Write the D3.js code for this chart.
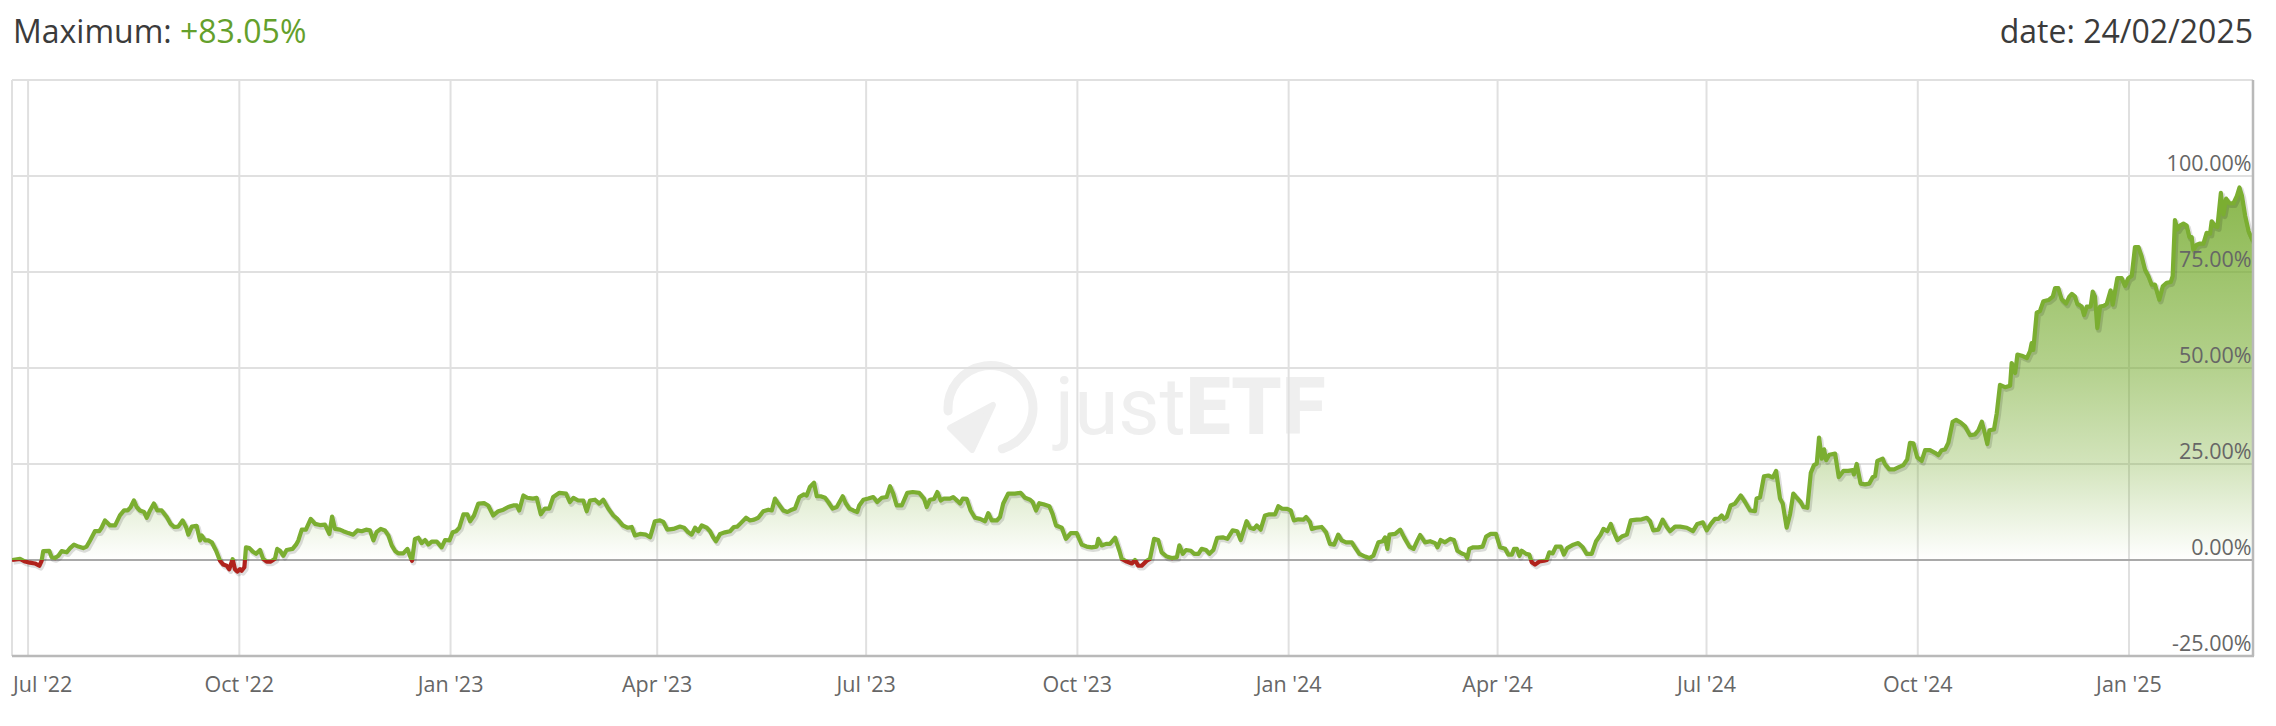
<!DOCTYPE html>
<html><head><meta charset="utf-8">
<script src="https://cdn.jsdelivr.net/npm/d3@7"></script>
<style>html,body{margin:0;padding:0;background:#fff;} svg{display:block;font-family:'Open Sans',sans-serif;}</style>
</head><body>
<svg id="chart" width="2276" height="726"></svg>
<script>
// ---- data ----
const startDate = "2022-06-24";
const endDate = "2025-02-24";
// days since startDate
const dayOffsets = [
0,3.5,5.7,7.8,10.0,11.9,12.9,13.6,16.2,17.3,18.7,20.2,21.6,23.8,25.3,27.0,28.9,31.0,32.5,34.0,36.1,38.0,39.0,40.5,42.7,44.9,47.0,48.8,50.4,51.7,53.1,54.3,55.7,57.5,58.7,60.1,61.8,63.3,65.2,67.4,69.1,70.6,72.4,74.3,75.8,76.8,78.3,80.4,81.9,82.6,84.1,85.5,87.0,88.9,90.6,92.0,93.5,94.6,96.1,97.1,98.1,99.3,100.0,101.2,101.9,103.4,104.8,106.3,108.0,109.4,110.9,112.7,114.5,115.5,116.7,118.2,119.6,122.2,123.7,124.7,126.2,128.0,130.1,132.0,134.1,136.3,138.2,139.4,140.7,142.8,
144.3,146.5,148.6,150.4,152.3,154.2,155.9,157.4,158.8,160.6,162.4,163.9,165.4,166.8,168.2,170.4,172.2,173.3,174.2,175.5,177.0,178.4,179.9,181.3,182.8,185.0,187.1,188.6,190.5,191.9,193.4,194.8,196.6,198.3,199.5,201.2,203.1,205.6,207.4,209.6,211.8,214.0,216.1,218.3,219.8,220.9,222.7,224.4,227.0,228.5,230.3,232.1,234.0,235.7,238.4,241.3,243.0,244.5,246.6,248.8,250.3,251.7,253.9,255.8,257.5,259.7,261.9,263.6,266.0,268.0,269.9,271.3,273.5,276.1,277.9,280.0,282.2,
283.7,285.4,288.0,290.9,292.7,294.5,296.0,297.5,298.9,300.4,302.6,304.0,305.4,306.6,308.4,310.5,312.7,314.4,315.9,317.4,319.7,321.4,323.2,325.0,327.2,329.4,330.9,332.3,333.7,335.9,337.7,339.6,341.0,342.9,344.9,346.1,347.5,349.3,350.5,352.2,354.1,355.5,357.4,359.2,361.8,363.2,364.7,366.4,368.1,369.0,370.8,372.9,375.1,376.8,378.8,380.9,382.4,383.8,385.3,387.5,389.9,392.3,395.1,397.2,398.4,399.8,401.6,403.0,404.5,405.9,408.5,409.9,411.7,412.9,414.1,415.8,417.5,419.4,421.6,423.8,425.2,426.7,428.9,
430.3,431.7,433.9,436.8,439.3,441.2,443.4,444.5,446.0,447.4,449.2,451.8,453.2,454.7,457.2,459.0,461.1,463.7,465.9,468.0,470.2,472.4,473.1,474.6,476.5,478.2,480.4,482.3,483.3,485.5,487.7,489.1,490.5,492.0,494.2,495.6,497.4,499.2,500.7,502.9,505.1,507.3,508.4,509.9,511.3,513.4,514.8,516.7,518.1,520.0,521.5,523.2,524.9,527.3,529.3,531.6,533.6,535.1,537.7,539.2,540.9,542.1,543.8,545.7,547.6,550.1,551.5,553.0,555.4,556.9,558.3,560.2,562.4,563.6,565.3,566.1,567.9,570.4,572.3,574.0,575.8,577.6,579.1,581.0,583.5,584.9,586.8,589.3,591.1,592.9,595.1,597.0,598.0,599.0,599.9,602.4,604.6,606.3,608.6,610.4,612.1,613.3,
615.4,617.6,619.8,620.8,622.2,624.1,626.3,628.0,629.5,631.4,632.8,633.8,634.7,636.4,638.6,640.5,642.0,644.0,646.3,648.1,650.3,651.7,653.2,654.2,655.4,656.5,657.5,659.4,660.8,661.9,663.3,665.2,667.2,668.4,669.5,671.0,672.4,674.5,675.9,677.3,680.0,682.1,684.1,685.8,688.0,689.9,691.9,693.1,694.8,696.3,697.7,699.2,701.1,703.3,705.0,707.6,709.8,712.0,713.4,714.8,717.0,718.9,720.7,722.1,724.3,726.5,729.4,732.1,734.0,736.4,738.1,739.9,741.7,743.2,744.6,745.6,746.8,748.5,750.4,752.9,754.8,757.0,759.1,759.8,761.3,763.0,764.9,766.9,768.3,770.0,771.2,772.9,774.4,775.8,777.3,779.0,780.2,781.9,783.4,784.8,786.0,787.0,788.2,789.2,790.1,791.5,794.0,795.6,
797.6,799.7,801.7,802.2,803.4,805.1,807.0,808.9,810.4,811.4,812.4,814.7,815.7,817.6,819.7,821.5,823.7,825.4,826.6,828.1,829.8,831.7,833.2,835.3,837.5,839.0,840.4,841.9,843.3,845.2,846.7,848.7,850.6,852.8,854.9,856.4,857.9,858.9,860.3,861.2,863.2,864.4,865.8,868.0,870.2,870.9,872.4,873.4,875.3,877.5,878.9,879.6,880.3,881.8,883.2,884.7,
886.9,888.8,889.8,891.2,892.7,894.6,896.0,897.1,898.5,899.5,901.4,902.4,903.6,905.3,906.2,907.2,908.2,909.4,911.1,912.3,914.0,914.9,916.9,918.8,920.3,921.7,923.2,924.6,926.1,927.5,929.0,930.4,931.9,933.3,935.2,936.7,938.4,940.2,941.0,942.0,943.1,944.2,945.7,947.1,948.3,949.3,950.0,951.5,952.9,954.4,955.8,957.3,958.0,959.5,960.5,962.0,963.1,964.3,965.7,967.5,969.0,970.1,971.2,972.6,974.1,976.0
];
// cumulative return in %
const returnsPct = [
0.0,0.3,-0.4,-0.7,-0.9,-1.5,-0.2,2.3,2.4,0.7,0.5,1.1,2.3,2.0,3.1,4.0,3.5,3.1,3.5,5.1,7.5,7.5,8.4,10.3,9.0,9.0,11.6,12.9,12.9,13.8,15.5,13.8,12.9,12.5,11.0,12.9,14.7,12.9,12.9,11.2,9.4,8.6,8.7,10.3,8.6,6.6,8.7,8.9,5.1,6.4,5.1,5.1,4.6,2.4,-0.2,-1.2,-1.5,-2.4,0.2,-2.4,-3.0,-2.4,-2.8,-1.9,3.3,3.1,2.2,1.6,2.6,0.3,-0.4,-0.4,0.3,2.9,2.4,1.1,2.6,2.9,4.0,5.1,7.9,7.9,10.7,9.4,9.1,9.2,6.8,11.3,8.1,7.9,
7.5,7.0,6.6,7.7,7.5,7.9,7.7,5.1,7.3,8.1,7.7,6.4,3.8,2.4,1.7,1.7,2.9,1.1,-0.2,5.5,5.8,4.4,5.2,4.0,4.8,4.8,3.3,5.2,5.1,7.2,7.5,8.4,11.9,11.9,10.1,11.6,14.7,14.8,14.2,11.6,12.7,13.1,13.8,14.2,14.2,12.9,16.8,16.2,16.0,16.2,11.9,13.4,13.4,16.4,17.5,17.3,15.1,16.2,15.5,15.5,12.7,15.5,15.7,14.7,15.7,13.4,11.6,10.7,9.0,8.4,8.6,6.4,6.8,6.6,5.9,10.1,10.3,
9.9,7.9,8.1,8.7,8.4,7.2,6.6,8.4,7.5,9.0,8.4,7.5,5.9,4.9,6.8,7.2,7.5,8.6,8.7,9.6,11.0,10.3,10.5,11.0,12.7,13.1,12.9,16.0,14.7,12.9,12.5,13.1,13.4,16.4,17.1,16.8,19.0,20.1,16.6,16.6,16.2,15.1,13.4,13.8,16.6,14.7,13.4,12.9,12.5,14.2,15.7,16.0,16.4,15.1,16.2,16.4,19.2,17.3,14.2,14.2,17.5,17.7,17.5,16.0,13.8,15.7,15.9,17.7,15.5,16.0,16.0,16.4,15.4,14.7,16.0,15.9,12.9,11.0,10.7,10.1,12.2,10.3,10.3,
11.2,14.7,17.3,17.3,17.5,16.2,15.7,15.1,12.9,14.8,14.5,14.0,12.0,9.0,8.4,5.5,7.0,7.0,4.0,3.5,3.3,3.5,5.5,3.8,4.2,4.2,5.8,2.4,0.3,-0.4,-0.9,0.0,-1.5,-1.5,-0.2,0.3,5.5,5.2,2.0,0.9,0.5,0.7,3.8,1.6,2.6,2.4,1.6,1.6,2.9,2.6,1.6,2.6,5.8,5.9,5.5,7.7,7.5,5.2,10.1,8.4,8.1,9.0,7.9,11.6,11.9,11.9,14.0,13.4,13.3,12.9,10.3,10.6,10.5,11.2,9.9,8.1,8.4,8.6,7.2,4.2,4.0,6.6,5.1,4.6,4.6,3.3,1.6,0.9,0.5,1.1,4.6,4.9,5.9,2.9,6.6,6.8,7.9,5.9,3.5,2.9,5.1,6.5,
4.6,4.9,4.4,3.3,5.2,4.6,5.5,5.2,2.4,1.7,1.4,0.5,2.9,3.3,3.3,3.5,6.1,6.8,6.8,3.3,2.9,1.4,1.4,2.9,2.9,1.1,2.4,1.6,1.4,-0.6,-1.2,-0.4,-0.2,0.0,2.0,1.7,3.5,3.5,1.4,3.1,4.0,4.4,3.3,1.6,1.6,4.9,6.6,8.1,7.5,9.4,7.2,5.2,6.1,6.6,10.3,10.5,10.6,11.0,10.1,7.7,7.9,10.5,8.6,7.5,8.7,8.7,8.4,7.5,9.4,9.8,7.7,9.4,10.7,10.7,11.6,10.7,11.2,14.2,14.7,16.8,15.1,12.9,12.7,16.0,16.3,21.8,22.0,21.5,23.2,16.0,14.7,8.4,12.0,17.3,16.2,15.1,13.8,13.6,22.7,24.7,25.1,31.9,26.4,28.8,26.0,27.4,27.7,21.6,
23.2,23.2,23.4,22.3,25.0,19.9,19.7,19.9,21.6,21.8,25.8,26.4,25.0,23.6,23.6,24.1,24.7,26.2,30.5,30.4,26.7,25.8,28.6,28.6,27.9,27.3,28.6,28.8,30.5,36.0,36.5,35.8,34.8,32.5,32.7,33.8,36.0,33.8,30.2,33.8,34.0,38.2,45.6,45.0,45.4,51.3,48.7,53.5,53.2,52.6,54.4,56.5,54.7,64.4,64.8,67.4,
67.7,68.6,70.8,70.8,67.9,66.8,68.6,69.3,68.6,66.7,66.0,63.8,66.0,66.0,69.9,68.6,60.4,66.0,66.2,66.7,70.2,66.5,73.4,73.4,71.4,73.4,74.0,81.5,81.5,79.1,75.6,74.0,71.7,71.7,67.8,71.3,72.2,72.4,73.9,88.5,86.1,87.1,87.6,87.1,84.1,84.1,80.8,82.1,82.4,82.4,85.2,85.0,88.2,86.9,86.7,95.6,90.0,94.1,92.9,92.9,94.8,97.0,94.8,89.6,85.6,83.05
];
const xTickDates = ["2022-07-01","2022-10-01","2023-01-01","2023-04-01","2023-07-01","2023-10-01","2024-01-01","2024-04-01","2024-07-01","2024-10-01","2025-01-01"];
const xTickLabels = ["Jul '22","Oct '22","Jan '23","Apr '23","Jul '23","Oct '23","Jan '24","Apr '24","Jul '24","Oct '24","Jan '25"];
const yTicks = [-25, 0, 25, 50, 75, 100];
const yDomain = [-25, 125];
const titleLabel = "Maximum: ";
const titleValue = "+83.05%";
const dateLabel = "date: 24/02/2025";

// ---- layout ----
const W = 2276, H = 726;
const L = 12, R = 2253, T = 80, B = 656;
const parse = d3.utcParse("%Y-%m-%d");
const t0 = parse(startDate);
const data = dayOffsets.map((d, i) => ({date: new Date(t0.getTime() + d * 864e5), v: returnsPct[i]}));

const x = d3.scaleUtc().domain([t0, parse(endDate)]).range([L, R]);
const y = d3.scaleLinear().domain(yDomain).range([B, T]);

const svg = d3.select("#chart");
const defs = svg.append("defs");

const grad = defs.append("linearGradient").attr("id", "fillGrad")
  .attr("gradientUnits", "userSpaceOnUse").attr("x1", 0).attr("x2", 0)
  .attr("y1", y(125)).attr("y2", y(0));
[[0, 0.95], [0.2, 0.86], [0.4, 0.7], [0.6, 0.54], [0.8, 0.32], [1, 0.0]].forEach(([o, op]) => {
  grad.append("stop").attr("offset", o).attr("stop-color", "#74aa2c").attr("stop-opacity", op);
});
defs.append("clipPath").attr("id", "clipAbove").append("rect")
  .attr("x", L).attr("y", T).attr("width", R - L).attr("height", y(0) - T);
defs.append("clipPath").attr("id", "clipBelow").append("rect")
  .attr("x", L).attr("y", y(0)).attr("width", R - L).attr("height", B - y(0));
defs.append("clipPath").attr("id", "clipPlot").append("rect")
  .attr("x", L).attr("y", T - 10).attr("width", R - L).attr("height", B - T + 10);

svg.append("rect").attr("width", W).attr("height", H).attr("fill", "#fff");

// ---- watermark ----
const wm = svg.append("g").attr("fill", "#efefef");
const wcx = 990.5, wcy = 408, wr = 42.5;
const arc = d3.arc().innerRadius(wr - 4.5).outerRadius(wr + 4.5).cornerRadius(4.5)
  .startAngle(-100 * Math.PI / 180).endAngle(170 * Math.PI / 180);
wm.append("path").attr("transform", `translate(${wcx},${wcy})`).attr("d", arc());
wm.append("path").attr("d", "M950,428 L993,405 L972,450 Z").attr("stroke", "#efefef")
  .attr("stroke-width", 6).attr("stroke-linejoin", "round");
const wt = wm.append("text").attr("x", 1055).attr("y", 434)
  .style("font-family", "Roboto, 'Open Sans', sans-serif").style("font-size", "80px");
wt.append("tspan").text("just").style("font-weight", 400);
wt.append("tspan").text("ETF").style("font-weight", 900);

// ---- grid ----
const grid = svg.append("g");
grid.selectAll(".vg").data(xTickDates).join("line")
  .attr("x1", d => x(parse(d))).attr("x2", d => x(parse(d)))
  .attr("y1", T).attr("y2", B).attr("stroke", "#e0e0e0").attr("stroke-width", 2);
grid.selectAll(".hg").data(yTicks.filter(t => t !== 0 && t !== -25)).join("line")
  .attr("x1", L).attr("x2", R).attr("y1", d => y(d)).attr("y2", d => y(d))
  .attr("stroke", "#e0e0e0").attr("stroke-width", 2);
// frame
grid.append("line").attr("x1", L).attr("x2", R).attr("y1", T).attr("y2", T).attr("stroke", "#e0e0e0").attr("stroke-width", 2);
grid.append("line").attr("x1", L).attr("x2", L).attr("y1", T).attr("y2", B).attr("stroke", "#e0e0e0").attr("stroke-width", 2);

// ---- area ----
const area = d3.area().x(d => x(d.date)).y0(y(0)).y1(d => y(Math.max(0, d.v)));
svg.append("path").datum(data).attr("d", area).attr("fill", "url(#fillGrad)");

// zero line
svg.append("line").attr("x1", L).attr("x2", R).attr("y1", y(0)).attr("y2", y(0))
  .attr("stroke", "#a9a9a9").attr("stroke-width", 2);

// ---- line ----
const line = d3.line().x(d => x(d.date)).y(d => y(d.v));
const lg = svg.append("g").attr("clip-path", "url(#clipPlot)");
lg.append("path").datum(data).attr("d", line).attr("fill", "none")
  .attr("stroke", "rgba(0,0,0,0.13)").attr("stroke-width", 5.5).attr("stroke-linejoin", "round")
  .attr("transform", "translate(1.5,2)");
lg.append("path").datum(data).attr("d", line).attr("fill", "none")
  .attr("stroke", "#7bae31").attr("stroke-width", 4.2).attr("stroke-linejoin", "round")
  .attr("clip-path", "url(#clipAbove)");
lg.append("path").datum(data).attr("d", line).attr("fill", "none")
  .attr("stroke", "#b0221c").attr("stroke-width", 4.2).attr("stroke-linejoin", "round")
  .attr("clip-path", "url(#clipBelow)");

// axis lines
svg.append("line").attr("x1", L).attr("x2", R + 1).attr("y1", B).attr("y2", B).attr("stroke", "#b9b9b9").attr("stroke-width", 2.5);
svg.append("line").attr("x1", R).attr("x2", R).attr("y1", T).attr("y2", B).attr("stroke", "#b9b9b9").attr("stroke-width", 2.5);

// ---- axis labels ----
const xl = svg.append("g").style("font-size", "21.5px").attr("fill", "#666");
xl.selectAll("text").data(xTickDates).join("text")
  .attr("x", d => x(parse(d))).attr("y", 692).attr("text-anchor", "middle")
  .text((d, i) => xTickLabels[i])
  .each(function() {
    const w = this.getComputedTextLength();
    const cx = +this.getAttribute("x");
    if (cx - w / 2 < L + 1) { this.setAttribute("text-anchor", "start"); this.setAttribute("x", L + 1); }
  });
const yl = svg.append("g").style("font-size", "21.5px").attr("fill", "#666");
yl.selectAll("text").data(yTicks).join("text")
  .attr("x", R - 1.5).attr("y", d => y(d) - 5).attr("text-anchor", "end")
  .text(d => d3.format(".2f")(d).replace("\u2212", "-") + "%");

// ---- header ----
const th = svg.append("text").attr("x", 13).attr("y", 43).style("font-size", "32px").attr("fill", "#3b3b3b");
th.append("tspan").text(titleLabel);
th.append("tspan").text(titleValue).attr("fill", "#64a02c");
svg.append("text").attr("x", R).attr("y", 43).attr("text-anchor", "end")
  .style("font-size", "32px").attr("fill", "#3b3b3b").text(dateLabel);
</script>
</body></html>
